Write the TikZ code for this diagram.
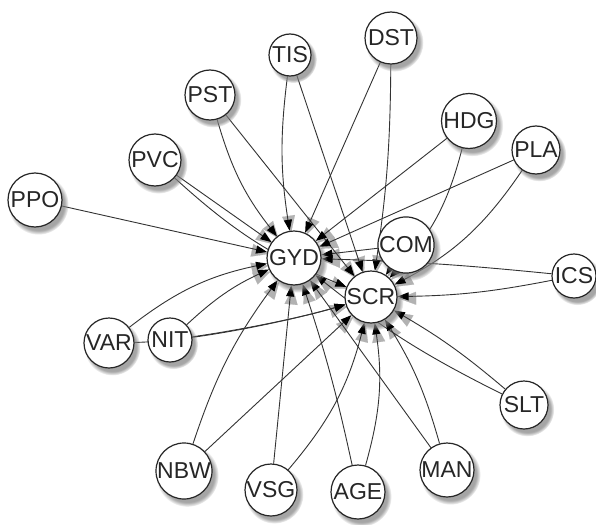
\documentclass[tikz,border=0pt]{standalone}
\usepackage{fontspec}
\setmainfont{Liberation Sans}
\usetikzlibrary{arrows.meta,shadows}
\pgfdeclarelayer{bgfill}
\pgfdeclarelayer{tipshade}
\pgfdeclarelayer{bg}
\pgfsetlayers{bgfill,tipshade,bg,main}
\tikzset{
  vnode/.style={circle, draw=black!85, line width=1.2pt, fill=white, inner sep=0pt,
    minimum size=#1, font=\fontsize{23}{23}\selectfont, text=black!85,
    circular drop shadow={shadow xshift=3pt, shadow yshift=-4pt, shadow scale=1.12, opacity=0.7}},
  linkarrow/.style={draw=black!80, line width=0.9pt, -{Triangle[length=11pt,width=8pt,color=black]}},
  tiphalo/.style={draw=white, line width=0.1pt, -{Triangle[length=17pt,width=13pt,color=black!30]},
    transform canvas={xshift=1.5pt,yshift=-2pt}}
}
\newcommand{\lnk}[3][]{%
  \begin{pgfonlayer}{tipshade}\draw[tiphalo] (#2) to[#1] (#3);\end{pgfonlayer}%
  \begin{pgfonlayer}{bg}\draw[linkarrow] (#2) to[#1] (#3);\end{pgfonlayer}}
\newcommand{\lnkc}[3]{%
  \begin{pgfonlayer}{tipshade}\draw[tiphalo] (#1) .. controls #2 .. (#3);\end{pgfonlayer}%
  \begin{pgfonlayer}{bg}\draw[linkarrow] (#1) .. controls #2 .. (#3);\end{pgfonlayer}}
\begin{document}
\begin{tikzpicture}[x=1pt,y=-1pt]
\begin{pgfonlayer}{bgfill}
\fill[white] (0,0) rectangle (596,524);
\end{pgfonlayer}
\useasboundingbox (0,0) rectangle (596,524);
% nodes
\node[vnode=54] (PPO) at (35,200) {PPO};
\node[vnode=52] (PVC) at (155,160) {PVC};
\node[vnode=50] (PST) at (210,95) {PST};
\node[vnode=42] (TIS) at (290,55) {TIS};
\node[vnode=52] (DST) at (391,38) {DST};
\node[vnode=55] (HDG) at (469,121) {HDG};
\node[vnode=48] (PLA) at (536,150) {PLA};
\node[vnode=54] (GYD) at (294,258) {GYD};
\node[vnode=56] (COM) at (406,245) {COM};
\node[vnode=52] (SCR) at (371,297) {SCR};
\node[vnode=44] (ICS) at (574,276) {ICS};
\node[vnode=50] (VAR) at (109,343) {VAR};
\node[vnode=44] (NIT) at (170,340) {NIT};
\node[vnode=56] (NBW) at (184,471) {NBW};
\node[vnode=52] (VSG) at (271,490) {VSG};
\node[vnode=54] (AGE) at (358,492) {AGE};
\node[vnode=54] (MAN) at (447,470) {MAN};
\node[vnode=48] (SLT) at (524,405) {SLT};
% edges
\lnk{PPO}{GYD}
\lnk{PVC}{GYD}
\lnk[bend right=10]{PVC}{SCR}
\lnk[bend right=11]{PST}{GYD}
\lnk{PST}{SCR}
\lnk[bend right=8]{TIS}{GYD}
\lnk{TIS}{SCR}
\lnk{DST}{GYD}
\lnk[bend left=4]{DST}{SCR}
\lnk{HDG}{GYD}
\lnk[bend left=15]{HDG}{SCR}
\lnk{PLA}{GYD}
\lnk[bend left=14]{PLA}{SCR}
\lnk{COM}{GYD}
\lnk{COM}{SCR}
\lnk[bend right=2]{ICS}{GYD}
\lnk[bend left=5]{ICS}{SCR}
\lnk[bend right=5]{SLT}{SCR}
\lnk[bend left=6]{SLT}{GYD}
\lnk{MAN}{GYD}
\lnk[bend right=8]{MAN}{SCR}
\lnk[bend right=3]{AGE}{GYD}
\lnk[bend right=12]{AGE}{SCR}
\lnk{VSG}{GYD}
\lnk[bend right=13]{VSG}{SCR}
\lnk[bend left=9]{NBW}{GYD}
\lnk{NBW}{SCR}
\lnk[bend left=9]{NIT}{GYD}
\lnkc{NIT}{(240,330) and (300,318)}{SCR}
\lnk[bend left=13]{VAR}{GYD}
\lnkc{VAR}{(200,341) and (300,318)}{SCR}
\end{tikzpicture}
\end{document}
